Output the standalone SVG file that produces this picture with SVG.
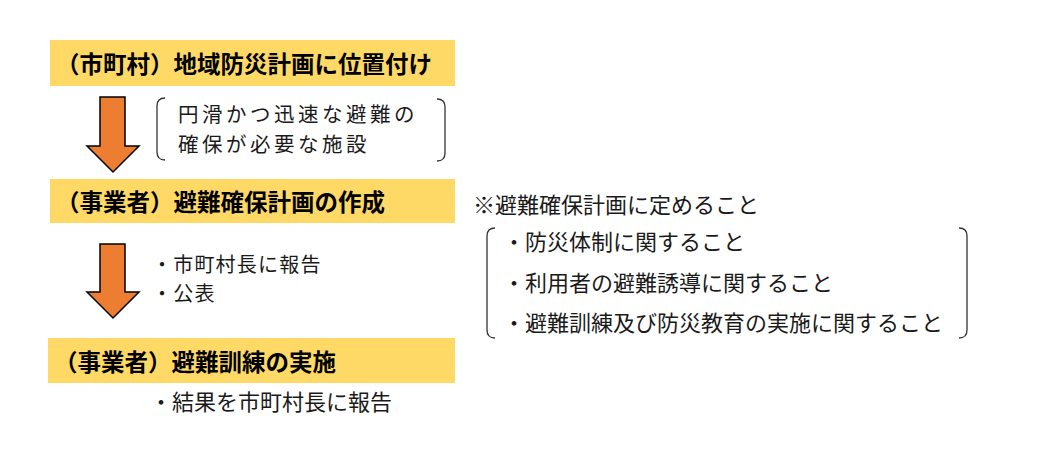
<svg xmlns="http://www.w3.org/2000/svg" width="1056" height="456" viewBox="0 0 1056 456">
<style>
.box{fill:#FFD966}
.hd{font-family:"Noto Sans CJK JP","Noto Sans",sans-serif;font-weight:bold;font-size:23.5px;fill:#000}
.tx{font-family:"Noto Sans CJK JP","Noto Sans",sans-serif;font-size:22px;fill:#1a1a1a}
.tb{font-family:"Noto Sans CJK JP","Noto Sans",sans-serif;font-size:20.5px;fill:#1a1a1a;letter-spacing:3.5px}
.ts{font-family:"Noto Sans CJK JP","Noto Sans",sans-serif;font-size:20px;fill:#1a1a1a;letter-spacing:1.2px}
.arrow{fill:#ED7D31;stroke:#000;stroke-width:1.5;stroke-linejoin:miter}
.br{fill:none;stroke:#333;stroke-width:1.3}
</style>
<rect width="1056" height="456" fill="#fff"/>
<g id="node1">
<rect class="box" x="50" y="40" width="405" height="46"/>
<text class="hd" x="56" y="73">（市町村）地域防災計画に位置付け</text>
</g>
<g id="node2">
<rect class="box" x="50" y="179" width="405" height="44"/>
<text class="hd" x="56" y="211">（事業者）避難確保計画の作成</text>
</g>
<g id="node3">
<rect class="box" x="48" y="338" width="407" height="45"/>
<text class="hd" x="54" y="371">（事業者）避難訓練の実施</text>
</g>
<g id="note1">
<path class="br" d="M165,98 Q157,98 157,106 L157,152 Q157,160 165,160"/>
<path class="br" d="M437,99 Q445,99 445,107 L445,153 Q445,161 437,161"/>
<text class="tb"><tspan x="178" y="122">円滑かつ迅速な避難の</tspan><tspan x="178" y="152">確保が必要な施設</tspan></text>
</g>
<g id="note2">
<text class="ts"><tspan x="152" y="272">・市町村長に報告</tspan><tspan x="152" y="301">・公表</tspan></text>
</g>
<g id="note3">
<text class="tx" x="150" y="410">・結果を市町村長に報告</text>
</g>
<g id="note4">
<text class="tx" x="473" y="213">※避難確保計画に定めること</text>
<path class="br" d="M495,228 Q487,228 487,236 L487,330 Q487,338 495,338"/>
<path class="br" d="M959,228 Q967,228 967,236 L967,330 Q967,338 959,338"/>
<text class="tx" x="503" y="250">・防災体制に関すること</text>
<text class="tx" x="503" y="291">・利用者の避難誘導に関すること</text>
<text class="tx" x="503" y="331">・避難訓練及び防災教育の実施に関すること</text>
</g>
<g id="connectors">
<path class="arrow" d="M100,97 L125,97 L125,146 L139,146 L113,172 L87,146 L100,146 Z"/>
<path class="arrow" d="M100,244 L125,244 L125,292 L139,292 L113,318 L87,292 L100,292 Z"/>
</g>
</svg>
